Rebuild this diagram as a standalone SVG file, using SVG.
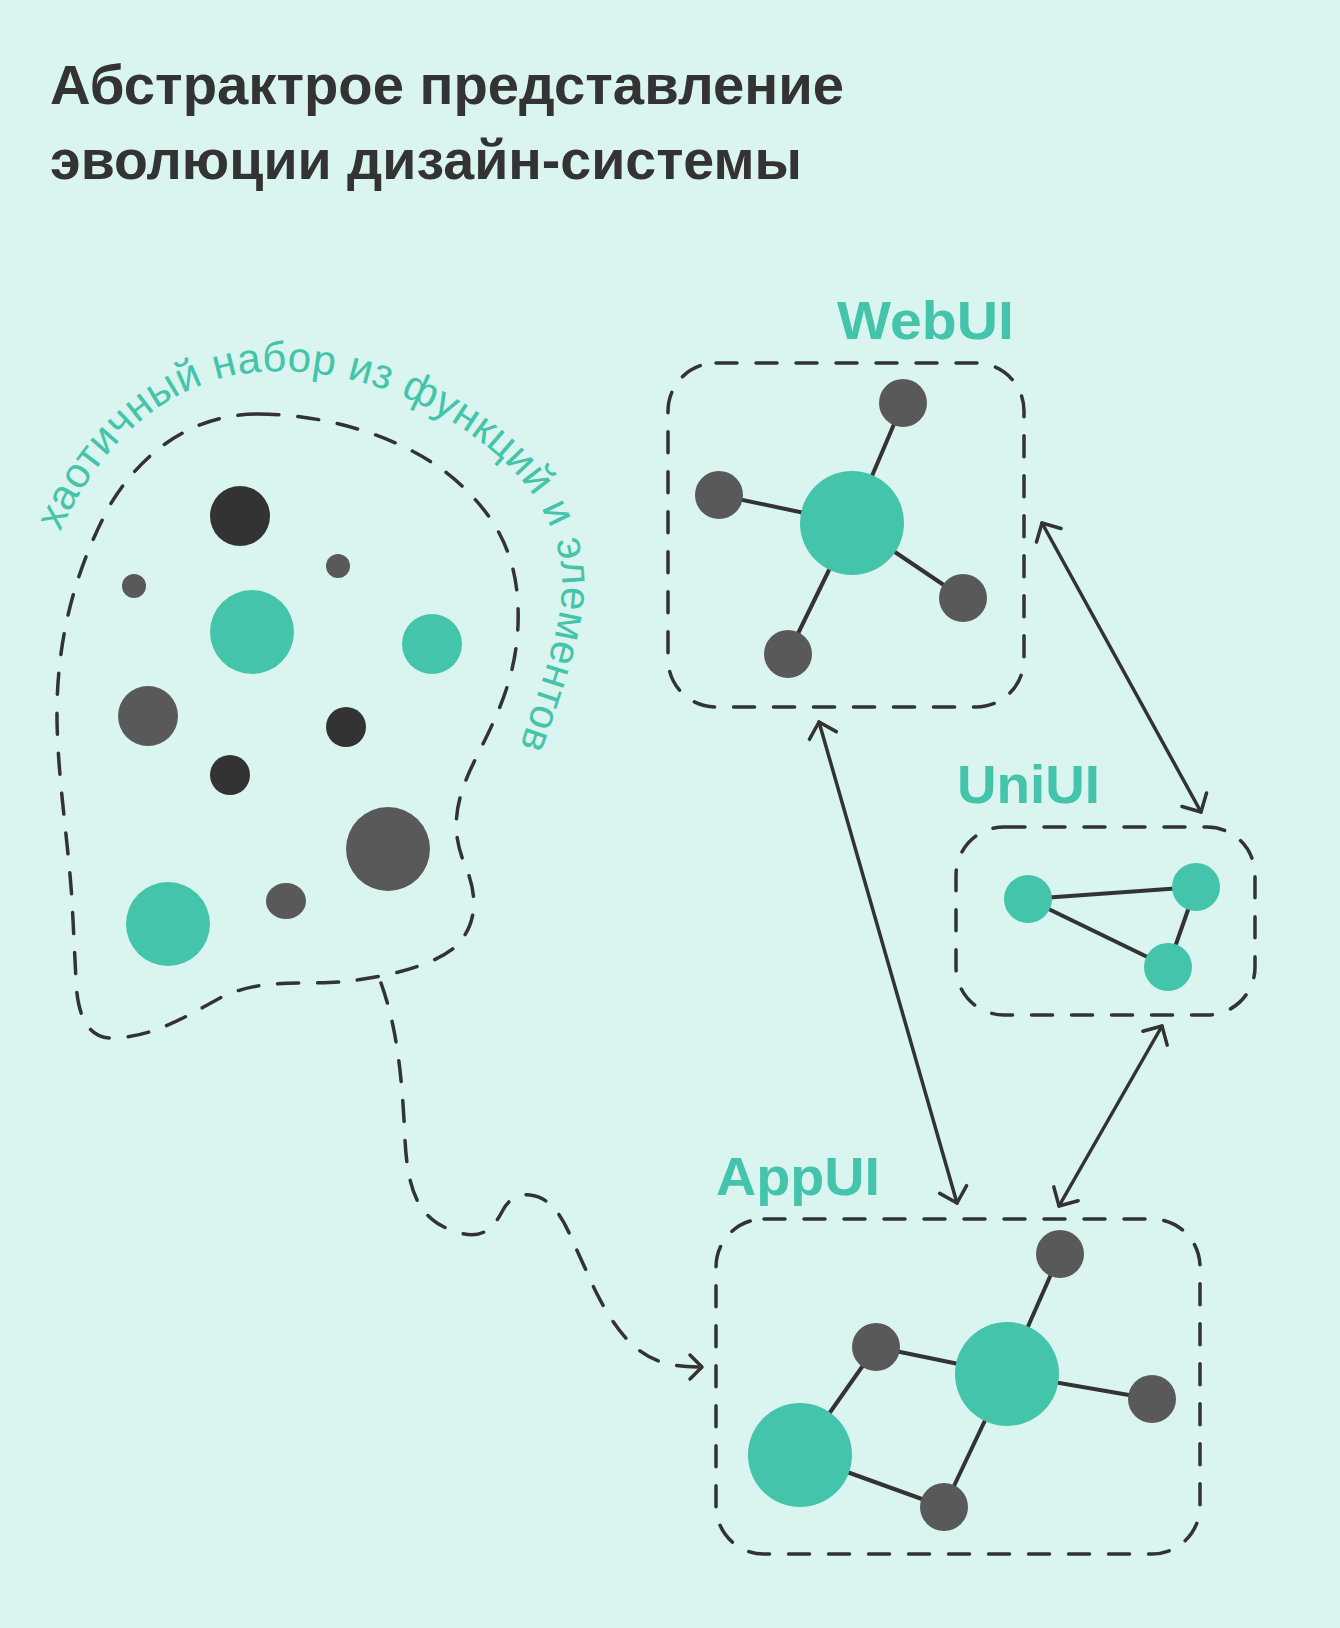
<svg xmlns="http://www.w3.org/2000/svg" width="1340" height="1628" viewBox="0 0 1340 1628">
<defs>
<style>
.bg{fill:#daf4ef}
.title{font-family:"Liberation Sans",Arial,sans-serif;font-weight:bold;font-size:56px;fill:#333333}
.label{font-family:"Liberation Sans",Arial,sans-serif;font-weight:bold;font-size:54px;fill:#43c4ab}
.arc{font-family:"Liberation Sans",Arial,sans-serif;font-size:42px;fill:#43c4ab;letter-spacing:0.5px}
.dash{fill:none;stroke:#333333;stroke-width:3.5;stroke-dasharray:21 19;stroke-linecap:round}
.edge{stroke:#333333;stroke-width:4;fill:none}
.arrow{stroke:#333333;stroke-width:3.5;fill:none;stroke-linecap:round;marker-start:url(#chev);marker-end:url(#chev)}
.teal{fill:#43c4ab}
.gray{fill:#595959}
.dark{fill:#333333}
</style>
<marker id="chev" markerUnits="userSpaceOnUse" markerWidth="40" markerHeight="40" viewBox="-20 -20 40 40" refX="0" refY="0" orient="auto-start-reverse" overflow="visible">
<path d="M-14,-14 L0,0 L-14,14" fill="none" stroke="#333333" stroke-width="3.5" stroke-linecap="round" stroke-linejoin="round"/>
</marker>
<marker id="chevs" markerUnits="userSpaceOnUse" markerWidth="40" markerHeight="40" viewBox="-20 -20 40 40" refX="0" refY="0" orient="auto" overflow="visible">
<path d="M-12,-12 L0,0 L-12,12" fill="none" stroke="#333333" stroke-width="3.5" stroke-linecap="round" stroke-linejoin="round" stroke-dasharray="none"/>
</marker>
<path id="arcpath" d="M 60,532 C 95,455 150,395 230,376 C 300,362 380,380 440,415 C 510,455 560,510 562,580 C 563,630 535,700 518,752"/>
</defs>
<rect class="bg" x="0" y="0" width="1340" height="1628"/>

<g id="title">
<text class="title" x="50" y="104" textLength="794" lengthAdjust="spacingAndGlyphs">Абстрактрое представление</text>
<text class="title" x="50" y="179" textLength="752" lengthAdjust="spacingAndGlyphs">эволюции дизайн-системы</text>
</g>

<g id="chaos">
<path class="dash" d="M 258,414 C 330,414 420,440 470,494 C 505,530 520,570 518,625 C 516,680 495,720 475,760 C 455,800 450,830 465,865 C 478,895 478,925 455,947 C 430,968 380,978 340,982 C 300,985 260,978 220,998 C 180,1020 150,1038 110,1038 C 85,1037 77,1010 76,980 L 72,900 C 68,840 58,780 57,720 C 56,640 75,570 110,505 C 140,455 190,414 258,414 Z"/>
<text class="arc"><textPath href="#arcpath">хаотичный набор из функций и элементов</textPath></text>
<circle class="dark" cx="240" cy="516" r="30"/>
<circle class="gray" cx="134" cy="586" r="12"/>
<circle class="gray" cx="338" cy="566" r="12"/>
<circle class="teal" cx="252" cy="632" r="42"/>
<circle class="teal" cx="432" cy="644" r="30"/>
<circle class="gray" cx="148" cy="716" r="30"/>
<circle class="dark" cx="346" cy="727" r="20"/>
<circle class="dark" cx="230" cy="775" r="20"/>
<circle class="gray" cx="388" cy="849" r="42"/>
<ellipse class="gray" cx="286" cy="901" rx="20" ry="18"/>
<circle class="teal" cx="168" cy="924" r="42"/>
</g>

<g id="webui">
<text class="label" x="837" y="339" textLength="177" lengthAdjust="spacingAndGlyphs">WebUI</text>
<rect class="dash" x="668" y="363" width="356" height="344" rx="48" ry="48"/>
<line class="edge" x1="852" y1="523" x2="903" y2="403"/>
<line class="edge" x1="852" y1="523" x2="719" y2="495"/>
<line class="edge" x1="852" y1="523" x2="963" y2="598"/>
<line class="edge" x1="852" y1="523" x2="788" y2="654"/>
<circle class="teal" cx="852" cy="523" r="52"/>
<circle class="gray" cx="903" cy="403" r="24"/>
<circle class="gray" cx="719" cy="495" r="24"/>
<circle class="gray" cx="963" cy="598" r="24"/>
<circle class="gray" cx="788" cy="654" r="24"/>
</g>

<g id="uniui">
<text class="label" x="957" y="803" textLength="143" lengthAdjust="spacingAndGlyphs">UniUI</text>
<rect class="dash" x="956" y="827" width="299" height="188" rx="48" ry="48"/>
<line class="edge" x1="1028" y1="899" x2="1196" y2="887"/>
<line class="edge" x1="1028" y1="899" x2="1168" y2="967"/>
<line class="edge" x1="1196" y1="887" x2="1168" y2="967"/>
<circle class="teal" cx="1028" cy="899" r="24"/>
<circle class="teal" cx="1196" cy="887" r="24"/>
<circle class="teal" cx="1168" cy="967" r="24"/>
</g>

<g id="appui">
<text class="label" x="716" y="1195" textLength="164" lengthAdjust="spacingAndGlyphs">AppUI</text>
<rect class="dash" x="716" y="1219" width="484" height="335" rx="48" ry="48"/>
<line class="edge" x1="1007" y1="1374" x2="1060" y2="1254"/>
<line class="edge" x1="1007" y1="1374" x2="876" y2="1347"/>
<line class="edge" x1="1007" y1="1374" x2="1152" y2="1399"/>
<line class="edge" x1="1007" y1="1374" x2="944" y2="1507"/>
<line class="edge" x1="800" y1="1455" x2="876" y2="1347"/>
<line class="edge" x1="800" y1="1455" x2="944" y2="1507"/>
<circle class="gray" cx="1060" cy="1254" r="24"/>
<circle class="gray" cx="876" cy="1347" r="24"/>
<circle class="gray" cx="1152" cy="1399" r="24"/>
<circle class="gray" cx="944" cy="1507" r="24"/>
<circle class="teal" cx="1007" cy="1374" r="52"/>
<circle class="teal" cx="800" cy="1455" r="52"/>
</g>

<g id="connectors">
<line class="arrow" x1="1042" y1="523" x2="1201" y2="812"/>
<line class="arrow" x1="819" y1="722" x2="957" y2="1203"/>
<line class="arrow" x1="1162" y1="1026" x2="1059" y2="1206"/>
<path class="dash" marker-end="url(#chevs)" d="M 381,983 C 396,1025 402,1070 405,1140 C 408,1195 420,1222 460,1233 C 485,1240 495,1225 503,1210 C 510,1197 520,1194 530,1195 C 548,1197 560,1212 570,1235 L 595,1290 C 615,1330 635,1355 665,1363 C 680,1367 692,1367 702,1367"/>
</g>
</svg>
